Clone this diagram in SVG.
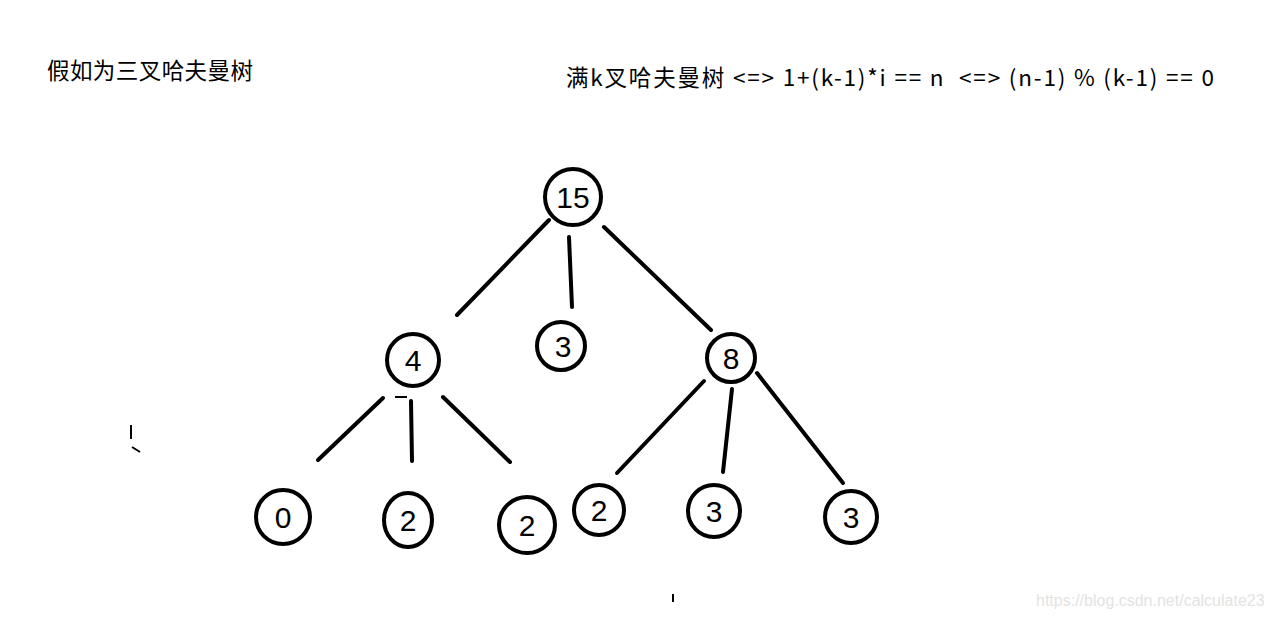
<svg xmlns="http://www.w3.org/2000/svg" width="1271" height="618" viewBox="0 0 1271 618">
<style>
.n circle{fill:none;stroke:#000;stroke-width:4}
.n text{font-family:"Liberation Sans","DejaVu Sans",sans-serif;font-size:30px;fill:#000;text-anchor:middle}
.e line{stroke:#000;stroke-width:4;stroke-linecap:round}
.t{font-family:"Noto Sans CJK SC","Noto Sans",sans-serif;fill:#000}
</style>
<rect width="1271" height="618" fill="#fff"/>
<text class="t" x="47" y="79" font-size="22.5" textLength="206">假如为三叉哈夫曼树</text>
<text class="t" x="566" y="86" font-size="22.5" textLength="648" xml:space="preserve">满k叉哈夫曼树 &lt;=&gt; 1+(k-1)*i == n  &lt;=&gt; (n-1) % (k-1) == 0</text>
<g class="e" id="connectors">
<line x1="549" y1="220" x2="457" y2="315"/>
<line x1="569" y1="237" x2="572" y2="307"/>
<line x1="604" y1="227" x2="711" y2="330"/>
<line x1="383" y1="398" x2="318" y2="460"/>
<line x1="411" y1="401" x2="412" y2="461"/>
<line x1="443" y1="397" x2="510" y2="462"/>
<line x1="704" y1="381" x2="617" y2="473"/>
<line x1="732" y1="389" x2="723" y2="472"/>
<line x1="757" y1="373" x2="843" y2="483"/>
</g>
<g class="n" id="n15"><circle cx="573" cy="197" r="28"/><text x="573" y="208">15</text></g>
<g class="n" id="n4"><circle cx="413" cy="360" r="26"/><text x="413" y="371">4</text></g>
<g class="n" id="n3a"><circle cx="561" cy="346" r="24"/><text x="563" y="357">3</text></g>
<g class="n" id="n8"><circle cx="731" cy="358" r="24"/><text x="731" y="369">8</text></g>
<g class="n" id="n0"><circle cx="283" cy="517" r="27"/><text x="283" y="528">0</text></g>
<g class="n" id="n2a"><ellipse cx="408" cy="520" rx="24" ry="27" fill="none" stroke="#000" stroke-width="4"/><text x="408" y="531">2</text></g>
<g class="n" id="n2b"><circle cx="527" cy="525" r="28"/><text x="527" y="536">2</text></g>
<g class="n" id="n2c"><circle cx="599" cy="510" r="25"/><text x="599" y="521">2</text></g>
<g class="n" id="n3b"><circle cx="714" cy="511" r="26"/><text x="714" y="522">3</text></g>
<g class="n" id="n3c"><circle cx="851" cy="517" r="26"/><text x="851" y="528">3</text></g>
<path d="M131 425 V439 M132 447 L140 452 M673 594 V602 M395 397 H407" stroke="#000" stroke-width="2" fill="none"/>
<text x="1036" y="606" font-family="Liberation Sans,Arial,sans-serif" font-size="16" fill="#e3e3e3">https://blog.csdn.net/calculate23</text>
</svg>
